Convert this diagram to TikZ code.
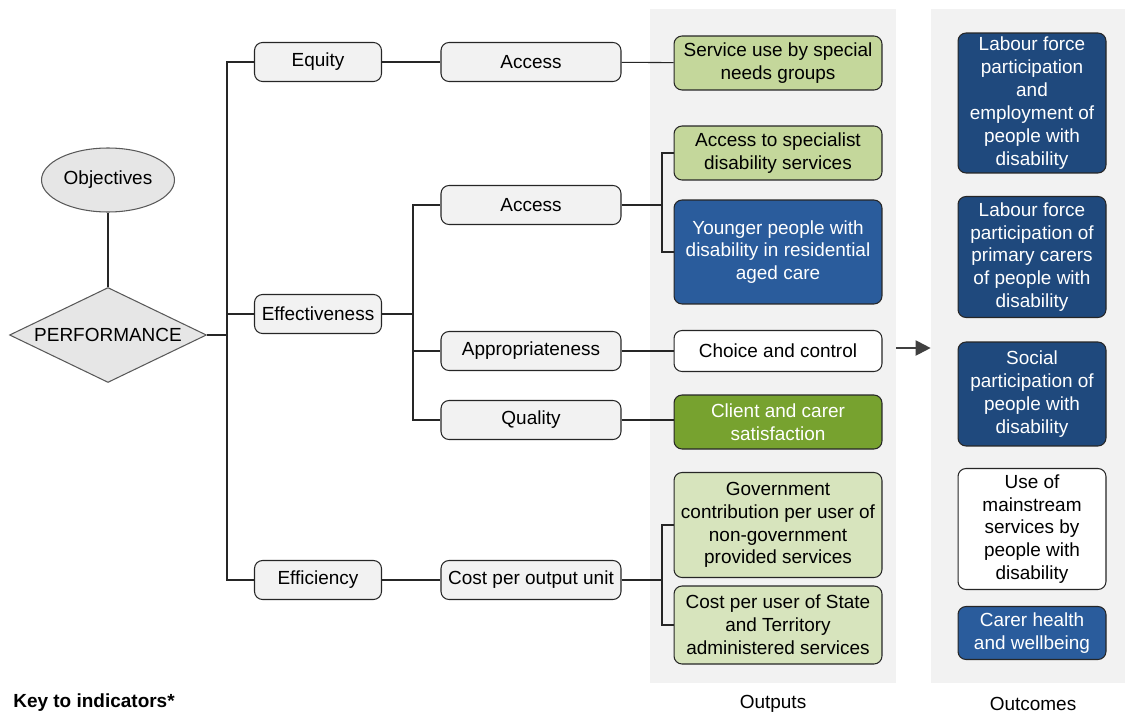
\documentclass[tikz,border=0pt]{standalone}
\usepackage{fontspec}
\setmainfont{Liberation Sans}
\usetikzlibrary{shapes.geometric,arrows.meta}
\definecolor{panelgray}{HTML}{F2F2F2}
\definecolor{boxgray}{HTML}{F2F2F2}
\definecolor{shapegray}{HTML}{E6E6E6}
\definecolor{indolive}{HTML}{C4D79B}
\definecolor{indpale}{HTML}{D7E4BD}
\definecolor{inddark}{HTML}{77A22F}
\definecolor{indblue}{HTML}{2A5C9C}
\definecolor{indnavy}{HTML}{1F497D}
\definecolor{linegray}{HTML}{262626}
\begin{document}
\begin{tikzpicture}[
        x=0.02cm, y=-0.02cm,
        box/.style={rectangle, rounded corners=0.16cm, draw=linegray, line width=0.6pt, align=center, inner sep=0pt, font=\fontsize{10.8}{13}\selectfont},
        lvl/.style={box, fill=boxgray, minimum width=2.54cm, minimum height=0.78cm},
        sub/.style={lvl, minimum width=3.6cm},
        outbox/.style={box, minimum width=4.16cm},
        outcbox/.style={box, minimum width=2.96cm},
        panel/.style={rectangle, fill=panelgray, inner sep=0pt, minimum height=13.48cm},
        caption/.style={font=\fontsize{10.8}{13}\selectfont, inner sep=0pt},
        link/.style={draw=linegray, line width=0.6pt},
        arrow/.style={-{Triangle[length=0.3cm, width=0.3cm]}, draw=black!75, line width=1.2pt}
    ]
        \useasboundingbox (0,0) rectangle (1125,713);
        \node[panel, minimum width=4.92cm] (outputs) at (773,346) {};
        \node[panel, minimum width=3.88cm] (outcomes) at (1028,346) {};
        \node[caption] (outlab) at (773,704) {Outputs};
        \node[caption] (outclab) at (1033,704) {Outcomes};
        \node[caption, anchor=west, font=\fontsize{10.8}{13}\selectfont\bfseries] (key) at (13,703) {Key to indicators*};

        \node[ellipse, draw=black!65, fill=shapegray, line width=0.6pt, minimum width=2.66cm, minimum height=1.28cm, inner sep=0pt, font=\fontsize{10.8}{13}\selectfont] (obj) at (108,180) {Objectives};
        \node[diamond, aspect=2.1, draw=black!65, fill=shapegray, line width=0.6pt, minimum width=3.94cm, minimum height=1.9cm, inner sep=0pt, font=\fontsize{10.8}{13}\selectfont] (perf) at (108,335) {PERFORMANCE};

        \node[lvl] (equity) at (318,62) {Equity};
        \node[lvl] (effect) at (318,314) {Effectiveness};
        \node[lvl] (effic) at (318,580) {Efficiency};

        \node[sub] (eqacc) at (531,62) {Access};
        \node[sub] (efacc) at (531,205) {Access};
        \node[sub] (approp) at (531,351) {Appropriateness};
        \node[sub] (quality) at (531,420) {Quality};
        \node[sub] (cost) at (531,580) {Cost per output unit};

        \node[outbox, fill=indolive, minimum height=1.08cm] (special) at (778,63) {Service use by special\\needs groups};
        \node[outbox, fill=indolive, minimum height=1.08cm] (spec) at (778,153) {Access to specialist\\disability services};
        \node[outbox, fill=indblue, text=white, minimum height=2.08cm] (young) at (778,252) {Younger people with\\disability in residential\\aged care};
        \node[outbox, fill=white, minimum height=0.82cm] (choice) at (778,351) {Choice and control};
        \node[outbox, fill=inddark, text=white, minimum height=1.08cm] (satis) at (778,422) {Client and carer\\satisfaction};
        \node[outbox, fill=indpale, minimum height=2.1cm] (gov) at (778,525) {Government\\contribution per user of\\non-government\\provided services};
        \node[outbox, fill=indpale, minimum height=1.56cm] (costuser) at (778,625) {Cost per user of State\\and Territory\\administered services};

        \node[outcbox, fill=indnavy, text=white, minimum height=2.8cm] (labour) at (1032,103) {Labour force\\participation\\and\\employment of\\people with\\disability};
        \node[outcbox, fill=indnavy, text=white, minimum height=2.42cm] (carers) at (1032,257) {Labour force\\participation of\\primary carers\\of people with\\disability};
        \node[outcbox, fill=indnavy, text=white, minimum height=2.08cm] (social) at (1032,394) {Social\\participation of\\people with\\disability};
        \node[outcbox, fill=white, minimum height=2.42cm] (mainstream) at (1032,529) {Use of\\mainstream\\services by\\people with\\disability};
        \node[outcbox, fill=indblue, text=white, minimum height=1.06cm] (health) at (1032,633) {Carer health\\and wellbeing};

        \coordinate (j0) at (227,335);
        \coordinate (j1) at (413,314);
        \coordinate (j2) at (662,205);
        \coordinate (j3) at (662,580);

        \draw[link] (obj) -- (perf);
        \draw[link] (perf.east) -- (j0);
        \draw[link] (j0) |- (equity.west);
        \draw[link] (j0) |- (effect.west);
        \draw[link] (j0) |- (effic.west);
        \draw[link] (equity) -- (eqacc);
        \draw[link] (eqacc) -- (special);
        \draw[link] (effect.east) -- (j1);
        \draw[link] (j1) |- (efacc.west);
        \draw[link] (j1) |- (approp.west);
        \draw[link] (j1) |- (quality.west);
        \draw[link] (efacc.east) -- (j2);
        \draw[link] (j2) |- (spec.west);
        \draw[link] (j2) |- (young.west);
        \draw[link] (approp) -- (choice);
        \draw[link] (quality.east) -- (quality.east -| satis.west);
        \draw[link] (effic) -- (cost);
        \draw[link] (cost.east) -- (j3);
        \draw[link] (j3) |- (gov.west);
        \draw[link] (j3) |- (costuser.west);
        \draw[arrow] (outputs.east |- choice) ++(0,-3) coordinate (arrS) -- (arrS -| outcomes.west);
    \end{tikzpicture}
\end{document}
